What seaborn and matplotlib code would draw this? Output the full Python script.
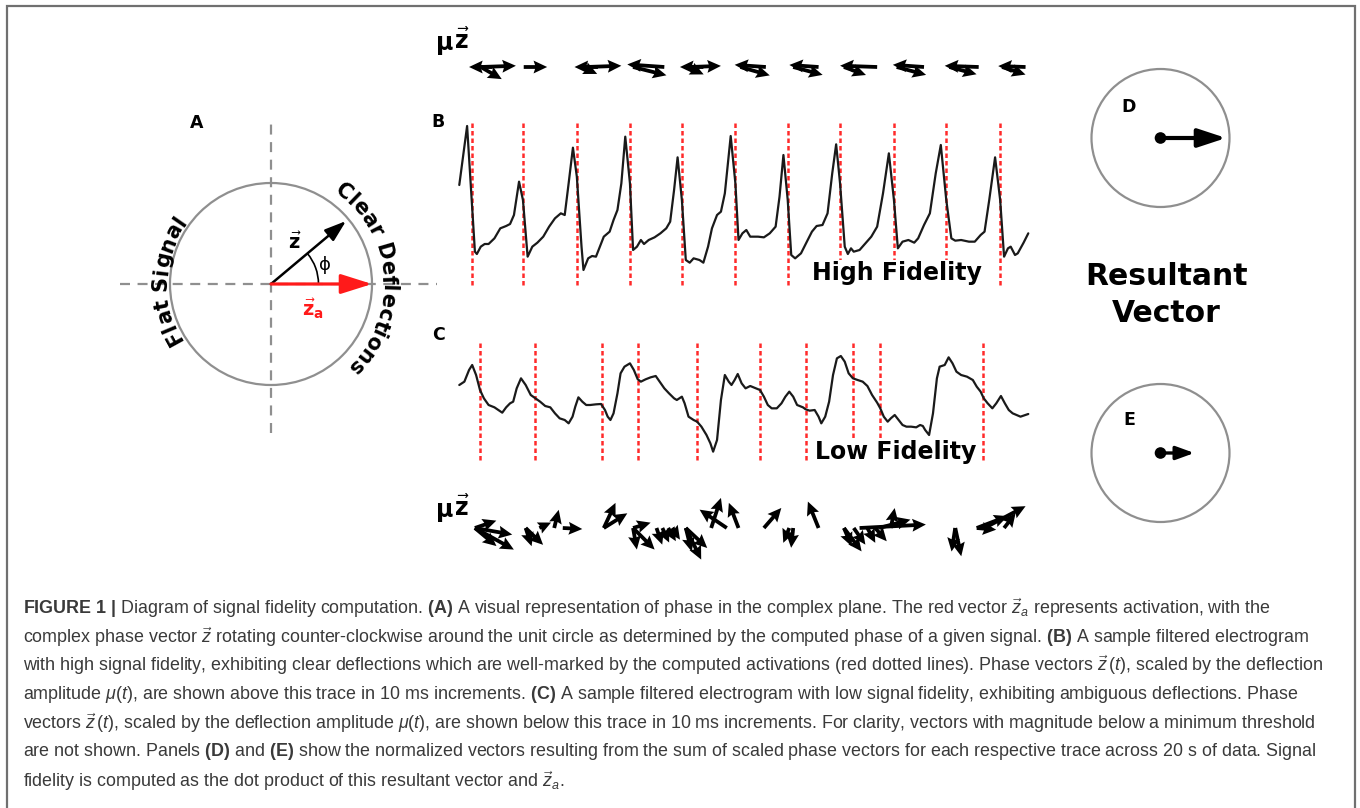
import matplotlib
matplotlib.use('Agg')
import numpy as np
import matplotlib.pyplot as plt
import seaborn as sns
from matplotlib.patches import Circle, Arc, Rectangle
from matplotlib.font_manager import FontProperties
from matplotlib.textpath import text_to_path

sns.set_style('white')
plt.rcParams['font.family'] = ['DejaVu Sans']
plt.rcParams['text.color'] = 'black'
plt.rcParams['mathtext.rm'] = 'Liberation Sans'
plt.rcParams['mathtext.it'] = 'Liberation Sans:italic'
plt.rcParams['mathtext.bf'] = 'Liberation Sans:bold'
plt.rcParams['mathtext.sf'] = 'Liberation Sans'

W, H = 1360, 808

# ---- data ---------------------------------------------------------------
# panel B: high fidelity electrogram, time (ms) / amplitude (mV)
hi_t = [75, 95, 115, 120, 130, 140, 150, 165, 180, 195, 205, 215, 228, 238, 250, 262, 275, 290, 305, 320,
        335, 345, 355, 366, 376, 388, 393, 405, 415, 425, 435, 445, 460, 470, 480, 490, 500, 512, 520, 530,
        540, 548, 560, 575, 590, 605, 615, 625, 634, 645, 655, 665, 675, 690, 700, 712, 722, 735, 745, 755,
        770, 782, 790, 800, 810, 820, 840, 855, 870, 885, 895, 905, 916, 925, 935, 950, 965, 978, 990, 1005,
        1018, 1030, 1040, 1050, 1062, 1070, 1078, 1085, 1100, 1115, 1130, 1145, 1160, 1175, 1188, 1198, 1210,
        1225, 1240, 1250, 1265, 1280, 1295, 1308, 1322, 1335, 1345, 1360, 1380, 1395, 1410, 1420, 1432, 1447,
        1460, 1470, 1480, 1487, 1498, 1505, 1520, 1532]
hi_v = [0.45, 2.22, -1.55, -1.62, -1.40, -1.32, -1.32, -1.15, -0.85, -0.78, -0.72, -0.45, 0.55, 0.00, -1.70,
        -1.40, -1.28, -1.10, -0.80, -0.55, -0.40, -0.45, 0.50, 1.57, 0.70, -1.40, -2.10, -1.75, -1.68, -1.70,
        -1.40, -1.10, -0.95, -0.60, -0.30, 0.50, 1.90, 0.50, -1.50, -1.40, -1.20, -1.32, -1.20, -1.12, -1.00,
        -0.85, -0.65, 0.30, 1.28, 0.00, -1.80, -1.88, -1.75, -1.80, -1.88, -1.40, -0.85, -0.45, -0.35, 0.20,
        1.92, 0.50, -1.20, -1.00, -0.90, -1.10, -1.10, -1.12, -1.00, -0.80, 0.10, 1.35, 0.00, -1.65, -1.75,
        -1.60, -1.25, -0.95, -0.78, -0.75, -0.40, 0.80, 1.67, 0.50, -1.40, -1.62, -1.45, -1.55, -1.50, -1.30,
        -1.10, -0.80, 0.20, 1.40, 0.00, -1.45, -1.25, -1.20, -1.28, -1.15, -0.75, -0.40, 0.80, 1.65, 0.00,
        -1.15, -1.22, -1.20, -1.25, -1.25, -1.05, -0.95, 0.00, 1.28, 0.00, -1.70, -1.45, -1.40, -1.65, -1.60,
        -1.28, -1.00]
hi_act = [107, 238, 376, 512, 646, 782, 916, 1050, 1188, 1322, 1460]

# panel C: low fidelity electrogram
lo_t = [75, 88, 100, 108, 118, 128, 138, 150, 165, 175, 185, 195, 205, 213, 222, 233, 245, 258, 270, 282,
        295, 308, 320, 332, 345, 355, 365, 372, 380, 390, 400, 410, 425, 438, 448, 455, 462, 470, 480, 488,
        498, 512, 522, 532, 540, 552, 565, 578, 588, 600, 612, 625, 632, 645, 652, 662, 675, 684, 695, 708,
        718, 725, 735, 745, 755, 765, 772, 780, 788, 798, 808, 820, 835, 845, 855, 865, 875, 888, 900, 910,
        920, 930, 940, 955, 962, 972, 985, 995, 1002, 1012, 1022, 1032, 1042, 1052, 1062, 1072, 1083, 1095,
        1108, 1120, 1132, 1145, 1153, 1162, 1172, 1180, 1190, 1200, 1210, 1220, 1232, 1245, 1255, 1262, 1268,
        1278, 1288, 1298, 1305, 1318, 1328, 1338, 1348, 1360, 1375, 1390, 1400, 1410, 1418, 1428, 1440, 1450,
        1462, 1472, 1482, 1492, 1502, 1512, 1525, 1532]
lo_v = [1.05, 1.15, 1.50, 1.65, 1.35, 0.90, 0.65, 0.45, 0.38, 0.30, 0.22, 0.38, 0.50, 0.55, 0.95, 1.25, 1.05,
        0.75, 0.65, 0.55, 0.42, 0.38, 0.20, 0.05, 0.00, -0.10, 0.10, 0.40, 0.68, 0.55, 0.45, 0.45, 0.47, 0.48,
        0.30, 0.10, 0.00, 0.20, 0.80, 1.40, 1.60, 1.70, 1.50, 1.22, 1.15, 1.22, 1.28, 1.32, 1.15, 0.95, 0.80,
        0.65, 0.60, 0.70, 0.50, 0.10, 0.00, -0.05, -0.20, -0.45, -0.70, -0.95, -0.60, 0.60, 1.35, 1.15, 1.05,
        1.20, 1.38, 1.10, 0.95, 1.02, 0.95, 0.90, 0.70, 0.45, 0.35, 0.35, 0.50, 0.70, 0.85, 0.70, 0.45, 0.38,
        0.32, 0.28, 0.30, 0.10, -0.10, 0.10, 0.55, 1.35, 1.85, 1.92, 1.75, 1.40, 1.25, 1.20, 1.15, 1.02, 0.75,
        0.52, 0.35, 0.10, -0.05, 0.05, 0.15, 0.00, -0.15, -0.20, -0.20, -0.22, -0.15, -0.18, -0.30, -0.45,
        0.20, 1.25, 1.60, 1.65, 1.88, 1.70, 1.45, 1.35, 1.30, 1.20, 1.00, 0.85, 0.65, 0.50, 0.35, 0.50, 0.72,
        0.50, 0.30, 0.20, 0.15, 0.10, 0.15, 0.18]
lo_act = [128, 270, 440, 532, 684, 845, 962, 1083, 1153, 1415]

# phase vectors mu*z(t) above B: origin time (ms), phase (deg), scaled length
hi_vec_t = [160, 130, 130, 240, 430, 400, 390, 600, 520, 700, 665, 660, 860, 795, 995, 930,
            1145, 1060, 1265, 1195, 1405, 1330, 1525, 1465]
hi_vec_phase = [180, 2, -30, 0, 180, 2, -25, 176, -14, 180, 2, -25, 176, -16, 176, -15,
                178, -20, 176, -15, 178, -15, 178, -18]
hi_vec_mu = [60, 90, 62, 60, 60, 90, 42, 95, 88, 60, 80, 45, 80, 78, 75, 78,
             95, 60, 80, 78, 87, 72, 70, 63]

# phase vectors below C
lo_vec_t = [115, 115, 115, 115, 245, 245, 280, 318, 340, 445, 445, 520, 520, 520, 580, 595, 610, 620,
            655, 655, 655, 720, 760, 790, 855, 930, 920, 995, 1060, 1060, 1085, 1120, 1140, 1100, 1180,
            1150, 1345, 1345, 1400, 1420, 1470, 1400]
lo_vec_phase = [-10, -29, -40, 19, -72, -44, 25, 76, -3, 65, 32, -80, -45, 17, -71, -65, -60, -56,
                -76, -64, -43, 72, 146, 111, 49, -96, -112, 112, -67, -53, -55, -62, -49, 3, 79,
                15, -99, -78, 21, 28, 52, -5]
lo_vec_mu = [97, 114, 72, 58, 49, 62, 33, 48, 50, 71, 71, 56, 78, 47, 45, 41, 39, 36,
             62, 90, 75, 81, 84, 69, 68, 51, 41, 73, 51, 75, 52, 43, 45, 170, 52,
             83, 61, 74, 85, 119, 48, 50]

# panel A: phase angle of z, and panels D/E: resultant magnitudes
phi_deg = 40
z_len = 0.97
res_mag = [0.95, 0.49]

# ---- figure -------------------------------------------------------------
fig = plt.figure(figsize=(W / 100, H / 100), dpi=100)


def px_axes(x0, y0, x1, y1):
    ax = fig.add_axes([x0 / W, 1 - y1 / H, (x1 - x0) / W, (y1 - y0) / H])
    ax.axis('off')
    return ax


def ftext(x, y, s, **kw):
    return fig.text(x / W, 1 - y / H, s, **kw)


fig.add_artist(Rectangle((7 / W, -0.1), 1348 / W, 1.1 - 6 / H, transform=fig.transFigure,
                         fill=False, ec='#707070', lw=1.6))

# panel A
axA = px_axes(101, 114, 441, 454)
lim = 170 / 101
axA.set_xlim(-lim, lim)
axA.set_ylim(-lim, lim)
axA.add_patch(Circle((0, 0), 1, fill=False, ec='#8f8f8f', lw=1.6))
axA.plot([-1.495, 1.64], [0, 0], ls=(0, (4.5, 3.4)), color='#8f8f8f', lw=1.6)
axA.plot([0, 0], [-1.475, 1.624], ls=(0, (4.5, 3.4)), color='#8f8f8f', lw=1.6)
phi = np.radians(phi_deg)
axA.annotate('', xy=(z_len * np.cos(phi), z_len * np.sin(phi)), xytext=(0, 0),
             arrowprops=dict(arrowstyle='-|>,head_length=0.65,head_width=0.22', color='black',
                             lw=1.8, shrinkA=0, shrinkB=0, mutation_scale=20))
axA.annotate('', xy=(1.0, 0), xytext=(0, 0),
             arrowprops=dict(arrowstyle='-|>,head_length=0.95,head_width=0.3', color='#ff1a1a',
                             lw=2.3, shrinkA=0, shrinkB=0, mutation_scale=20))
axA.add_patch(Arc((0, 0), 0.94, 0.94, theta1=0, theta2=phi_deg, color='black', lw=1.2))
axA.text(0.535, 0.19, 'ϕ', fontsize=13, ha='center', va='center')
axA.text(0.238, 0.41, r'$\vec{\mathbf{z}}$', fontsize=14, ha='center', va='center',
         math_fontfamily='dejavusans')
axA.text(0.41, -0.24, r'$\vec{\mathbf{z}}_\mathbf{a}$', fontsize=14, ha='center', va='center',
         color='#ff1a1a', math_fontfamily='dejavusans')


def arc_text(ax, s, mid_deg, r, fs):
    prop = FontProperties(family='DejaVu Sans', weight='bold', size=fs)
    cum = [text_to_path.get_text_width_height_descent(s[:i], prop, ismath=False)[0] if i else 0
           for i in range(len(s) + 1)]
    pt_per_unit = 101 * 72 / 100
    for i, ch in enumerate(s):
        if ch == ' ':
            continue
        off = ((cum[i] + cum[i + 1]) / 2 - cum[-1] / 2) / pt_per_unit
        th = np.radians(mid_deg) - off / r
        ax.text(r * np.cos(th), r * np.sin(th), ch, rotation=np.degrees(th) - 90,
                rotation_mode='anchor', ha='center', va='baseline', fontsize=fs, weight='bold')


arc_text(axA, 'Flat Signal', 178, 1.03, 15)
arc_text(axA, 'Clear Deflections', 4, 1.1, 15)

# panel B
axB = px_axes(430, 100, 1040, 300)
axB.set_xlim(0, 1562)
axB.set_ylim(-3, 3)
axB.vlines(hi_act, -2.55, 2.35, colors='#ff2a2a', linestyles=(0, (1.8, 1.2)), lw=1.8)
sns.lineplot(x=hi_t, y=hi_v, ax=axB, color='#1a1a1a', lw=1.6, sort=False, estimator=None)
axB.axis('off')

# panel C
axC = px_axes(430, 320, 1040, 520)
axC.set_xlim(0, 1562)
axC.set_ylim(-3, 3)
axC.vlines(lo_act, -1.2, 2.35, colors='#ff2a2a', linestyles=(0, (1.8, 1.2)), lw=1.8)
sns.lineplot(x=lo_t, y=lo_v, ax=axC, color='#1a1a1a', lw=1.6, sort=False, estimator=None)
axC.axis('off')

# phase vector rows
for box, vt, vp, vm in [((430, 47, 1040, 87), hi_vec_t, hi_vec_phase, hi_vec_mu),
                        ((430, 488, 1040, 568), lo_vec_t, lo_vec_phase, lo_vec_mu)]:
    axq = px_axes(*box)
    half = (box[3] - box[1]) * 1562 / 610 / 2
    axq.set_xlim(0, 1562)
    axq.set_ylim(-half, half)
    ang = np.radians(vp)
    axq.quiver(vt, np.zeros(len(vt)), np.array(vm) * np.cos(ang), np.array(vm) * np.sin(ang),
               angles='xy', scale_units='xy', scale=1, width=0.0062, headwidth=3.4,
               headlength=3.6, headaxislength=3.2, color='black', clip_on=False)

# panels D, E
for (cx, cy), mag, hl, hw, lw in [((1160.5, 138), res_mag[0], 0.85, 0.28, 3.0),
                                  ((1160.5, 453), res_mag[1], 0.55, 0.2, 2.4)]:
    ax = px_axes(cx - 80, cy - 80, cx + 80, cy + 80)
    ax.set_xlim(-80 / 69, 80 / 69)
    ax.set_ylim(-80 / 69, 80 / 69)
    ax.add_patch(Circle((0, 0), 1, fill=False, ec='#8f8f8f', lw=1.6))
    ax.annotate('', xy=(mag, 0), xytext=(0, 0),
                arrowprops=dict(arrowstyle=f'-|>,head_length={hl},head_width={hw}', color='black',
                                lw=lw, shrinkA=0, shrinkB=0, mutation_scale=20))
    sns.scatterplot(x=[0], y=[0], ax=ax, color='black', s=70, zorder=5, edgecolor='none')
    ax.axis('off')

# labels
for lab, x, y in [('A', 197, 123), ('B', 438, 122), ('C', 438, 335), ('D', 1129, 107), ('E', 1129, 420)]:
    ftext(x, y, lab, fontsize=12.5, weight='bold', ha='center', va='center')
ftext(897, 273, 'High Fidelity', fontsize=17, weight='bold', ha='center', va='center',
      bbox=dict(fc='white', ec='none', pad=1), zorder=5)
ftext(896, 452, 'Low Fidelity', fontsize=17, weight='bold', ha='center', va='center',
      bbox=dict(fc='white', ec='none', pad=1), zorder=5)
ftext(1166, 295, 'Resultant\nVector', fontsize=21.5, weight='bold', ha='center', va='center',
      linespacing=1.35)
for y in (41, 508):
    ftext(445, y + 2, 'μ', fontsize=17, weight='bold', ha='center', va='center')
    ftext(462, y, r'$\vec{\mathbf{z}}$', fontsize=17, ha='center', va='center',
          math_fontfamily='dejavusans')

# caption
caption = [
    r'$\mathbf{FIGURE\ 1\ |}$ Diagram of signal fidelity computation. $\mathbf{(A)}$ A visual representation of phase in the complex plane. The red vector $\vec{z}_{a}$ represents activation, with the',
    r'complex phase vector $\vec{z}$ rotating counter-clockwise around the unit circle as determined by the computed phase of a given signal. $\mathbf{(B)}$ A sample filtered electrogram',
    r'with high signal fidelity, exhibiting clear deflections which are well-marked by the computed activations (red dotted lines). Phase vectors $\vec{z}\,(t)$, scaled by the deflection',
    r'amplitude $\mu(t)$, are shown above this trace in 10 ms increments. $\mathbf{(C)}$ A sample filtered electrogram with low signal fidelity, exhibiting ambiguous deflections. Phase',
    r'vectors $\vec{z}\,(t)$, scaled by the deflection amplitude $\mu(t)$, are shown below this trace in 10 ms increments. For clarity, vectors with magnitude below a minimum threshold',
    r'are not shown. Panels $\mathbf{(D)}$ and $\mathbf{(E)}$ show the normalized vectors resulting from the sum of scaled phase vectors for each respective trace across 20 s of data. Signal',
    r'fidelity is computed as the dot product of this resultant vector and $\vec{z}_{a}$.',
]
cap_texts = []
for i, line in enumerate(caption):
    cap_texts.append(ftext(23, 608 + i * 28.8, line, fontsize=13.5, family='Liberation Sans',
                           color='#3a3a3a', ha='left', va='center', math_fontfamily='custom'))
fig.canvas.draw()
bb = cap_texts[5].get_window_extent(fig.canvas.get_renderer())
k = (1318 - 23) / bb.width
for t in cap_texts:
    t.set_fontsize(13.5 * k)

fig.savefig('out.png', dpi=100)
